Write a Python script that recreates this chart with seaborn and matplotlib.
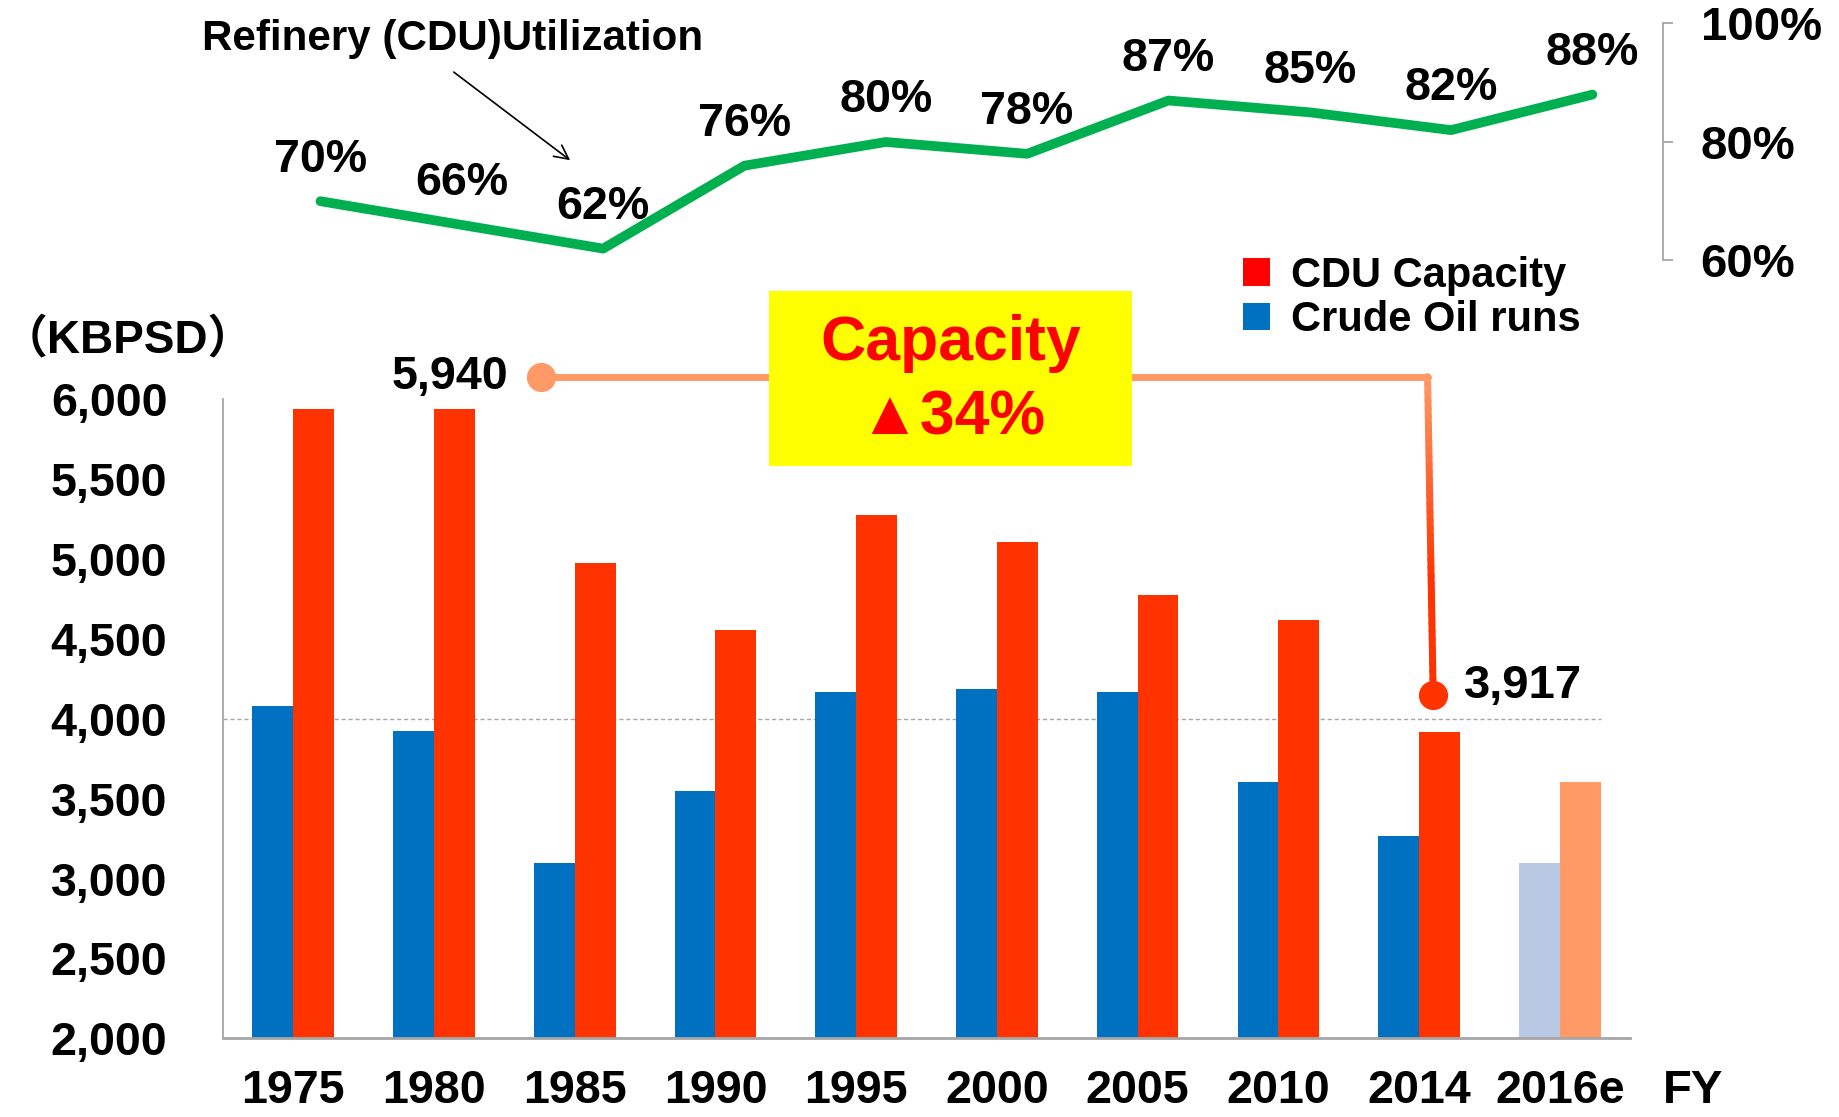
import numpy as np
import pandas as pd
import seaborn as sns
import matplotlib.pyplot as plt
from matplotlib import font_manager
from matplotlib.patches import Patch, Rectangle
from matplotlib.collections import LineCollection
from matplotlib.colors import to_rgb

# data
years = ['1975', '1980', '1985', '1990', '1995', '2000', '2005', '2010', '2014', '2016e']
crude_runs = [4080, 3920, 3095, 3550, 4165, 4185, 4165, 3605, 3265, 3100]
cdu_capacity = [5940, 5940, 4975, 4555, 5275, 5105, 4775, 4620, 3917, 3605]
utilization = [0.70, 0.66, 0.62, 0.76, 0.80, 0.78, 0.87, 0.85, 0.82, 0.88]
util_labels = ['70%', '66%', '62%', '76%', '80%', '78%', '87%', '85%', '82%', '88%']
y_ticks = [2000, 2500, 3000, 3500, 4000, 4500, 5000, 5500, 6000]
util_ticks = [0.6, 0.8, 1.0]

BLUE = '#0070C0'
RED = '#FF3300'
LIGHT_BLUE = '#B9C9E3'
SALMON = '#FF9966'
GREEN = '#00B050'
GRAY = '#A6A6A6'

sns.set_theme(style='white')
names = {f.name for f in font_manager.fontManager.ttflist}
NARROW = 'Liberation Sans Narrow' in names
plt.rcParams['font.family'] = ['Liberation Sans', 'DejaVu Sans']
plt.rcParams['font.weight'] = 'bold'
plt.rcParams['text.color'] = 'black'
plt.rcParams['xtick.color'] = 'black'
plt.rcParams['ytick.color'] = 'black'
NFAM = ['Liberation Sans Narrow', 'Liberation Sans'] if NARROW else ['Liberation Sans']


def nsize(s):
    # narrow font sizes; shrink when narrow face is missing
    return s if NARROW else s * 0.82


df = pd.DataFrame({
    'year': years * 2,
    'value': crude_runs + cdu_capacity,
    'series': ['Crude Oil runs'] * len(years) + ['CDU Capacity'] * len(years),
})

W, H = 1568, 952  # layout measured on the shrunk reference
fig = plt.figure(figsize=(18.39, 11.17), dpi=100)

# ---- bar chart ----
ax = fig.add_axes([190 / W, 1 - 885 / H, 1200 / W, 545 / H])
sns.barplot(data=df, x='year', y='value', hue='series', order=years,
            hue_order=['Crude Oil runs', 'CDU Capacity'],
            palette=[BLUE, RED], width=0.58, saturation=1,
            edgecolor='none', linewidth=0, legend=False, ax=ax)
ax.containers[0][-1].set_facecolor(LIGHT_BLUE)
ax.containers[1][-1].set_facecolor(SALMON)

ax.set_xlim(-0.5, 9.5)
ax.set_ylim(2000, 6000)
ax.set_yticks(y_ticks)
ax.set_yticklabels([f'{v:,}' for v in y_ticks], family=NFAM, fontsize=nsize(41), fontweight='bold')
ax.set_xticks(range(len(years)))
ax.set_xticklabels(years, family=NFAM, fontsize=nsize(41), fontweight='bold')
ax.tick_params(axis='y', length=0, pad=40)
ax.tick_params(axis='x', length=0, pad=22)
ax.set_xlabel('')
ax.set_ylabel('')
for s in ['top', 'right']:
    ax.spines[s].set_visible(False)
ax.spines['left'].set_color(GRAY)
ax.spines['left'].set_linewidth(1.3)
ax.spines['bottom'].set_color(GRAY)
ax.spines['bottom'].set_linewidth(2)
ax.plot([-0.5, 9.29], [4000, 4000], ls=(0, (3, 2)), color=GRAY, lw=1, zorder=0)

fig.text(1 / W, 1 - 290 / H, '（KBPSD）', family=['Liberation Sans', 'Noto Sans CJK JP'],
         fontsize=33, fontweight='bold', va='center', ha='left')
fig.text(1418 / W, 1 - 930 / H, 'FY', fontsize=34, fontweight='bold', va='center', ha='left')

# capacity change bracket
x0, x1, x2 = 1.76, 8.06, 8.1
y_top = cdu_capacity[0] + 200
y_end = cdu_capacity[8] + 230
ax.plot([x0, x1], [y_top, y_top], color=SALMON, lw=5, solid_capstyle='round', clip_on=False, zorder=3)
ax.plot([x0], [y_top], 'o', color=SALMON, ms=20, clip_on=False, zorder=3)
n = 40
ys = np.linspace(y_top, y_end, n + 1)
xs = np.linspace(x1, x2, n + 1)
segs = [[(xs[i], ys[i]), (xs[i + 1], ys[i + 1])] for i in range(n)]
c0, c1 = np.array(to_rgb(SALMON)), np.array(to_rgb(RED))
t = np.clip(np.linspace(0, 1, n) / 0.65, 0, 1)
cols = [tuple(c0 + (c1 - c0) * v) for v in t]
ax.add_collection(LineCollection(segs, colors=cols, lw=5, clip_on=False, zorder=3, capstyle='round'))
ax.plot([x2], [y_end], 'o', color=RED, ms=20, clip_on=False, zorder=3)
ax.text(x0 - 0.23, y_top, f'{cdu_capacity[0]:,}', family=NFAM, fontsize=nsize(41),
        fontweight='bold', ha='right', va='center')
ax.text(x2 + 0.22, y_end + 60, f'{cdu_capacity[8]:,}', fontsize=34,
        fontweight='bold', ha='left', va='center')

box = Rectangle((656 / W, 1 - 397 / H), 309 / W, 149 / H, transform=fig.transFigure,
                facecolor='#FFFF00', edgecolor='none', zorder=5)
fig.patches.append(box)
pct = round((1 - cdu_capacity[8] / cdu_capacity[0]) * 100)
fig.text(811 / W, 1 - 293 / H, 'Capacity', color='#FF0000', fontsize=45,
         fontweight='bold', ha='center', va='center', zorder=6)
fig.text(812 / W, 1 - 356 / H, f'▲{pct}%', color='#FF0000', fontsize=45,
         family=['Liberation Sans', 'DejaVu Sans'], fontweight='bold',
         ha='center', va='center', zorder=6)

# legend
handles = [Patch(facecolor='#FF0000', edgecolor='none'), Patch(facecolor=BLUE, edgecolor='none')]
fig.legend(handles, ['CDU Capacity', 'Crude Oil runs'], loc='center left',
           bbox_to_anchor=(1042 / W, 1 - 254 / H), frameon=False,
           prop={'size': 30, 'weight': 'bold'}, handlelength=0.65, handleheight=0.65,
           handletextpad=0.5, labelspacing=0.1, borderpad=0)

# ---- utilization line ----
ax2 = fig.add_axes([213 / W, 1 - 222 / H, 1205 / W, 202 / H])
ax2.patch.set_alpha(0)
sns.lineplot(x=np.arange(len(years)), y=utilization, color=GREEN, lw=7,
             solid_capstyle='round', ax=ax2)
for i, (v, lab) in enumerate(zip(utilization, util_labels)):
    ax2.annotate(lab, (i, v), xytext=(0, 30), textcoords='offset points',
                 ha='center', va='center', family=NFAM, fontsize=nsize(41), fontweight='bold')
ax2.set_xlim(-0.5, 9.5)
ax2.set_ylim(0.6, 1.0)
ax2.set_xticks([])
ax2.yaxis.tick_right()
ax2.set_yticks(util_ticks)
ax2.set_yticklabels([f'{v:.0%}' for v in util_ticks], fontsize=34, fontweight='bold')
ax2.tick_params(axis='y', direction='out', length=7, width=1.3, color=GRAY, pad=20)
for s in ['top', 'left', 'bottom']:
    ax2.spines[s].set_visible(False)
ax2.spines['right'].set_color(GRAY)
ax2.spines['right'].set_linewidth(1.3)

fig.text(386 / W, 1 - 33 / H, 'Refinery (CDU)Utilization', family=NFAM,
         fontsize=nsize(37), fontweight='bold', ha='center', va='center')
ax2.annotate('', xy=(488 / W, 1 - 138 / H), xytext=(385 / W, 1 - 60 / H),
             xycoords='figure fraction', textcoords='figure fraction',
             arrowprops=dict(arrowstyle='->', color='black', lw=1.2, mutation_scale=25))

fig.savefig('out.png', dpi=100)
